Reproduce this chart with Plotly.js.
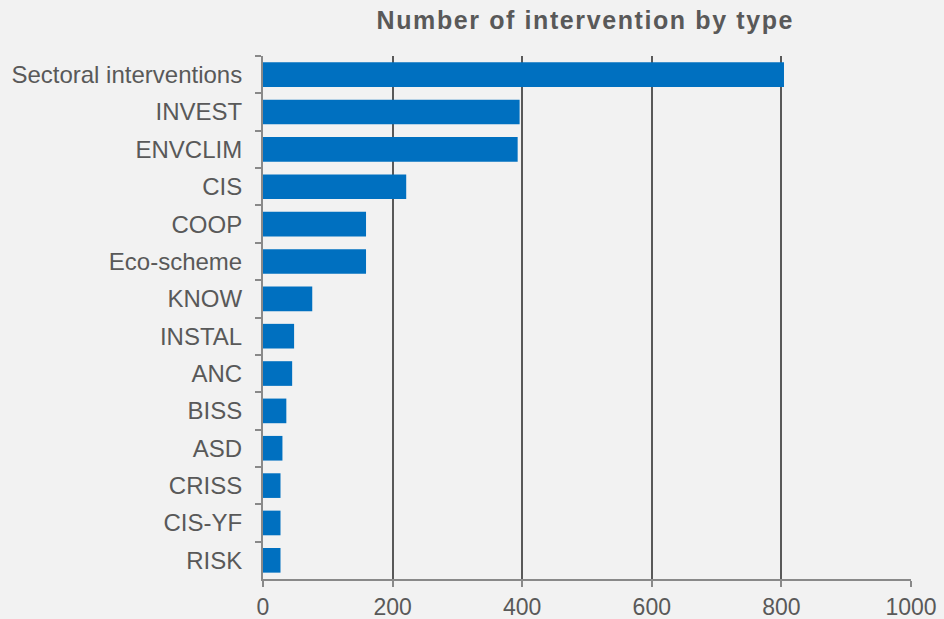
<!DOCTYPE html>
<html>
<head>
<meta charset="utf-8">
<script src="https://cdn.plot.ly/plotly-3.0.1.min.js"></script>
<style>
html,body{margin:0;padding:0;background:#f2f2f2;}
.gtitle{letter-spacing:1.6px;}
</style>
</head>
<body>
<div id="chart" style="width:944px;height:619px;"></div>
<script>
const categories = ["Sectoral interventions","INVEST","ENVCLIM","CIS","COOP","Eco-scheme","KNOW","INSTAL","ANC","BISS","ASD","CRISS","CIS-YF","RISK"];
const values = [804, 396, 393, 221, 159, 159, 76, 48, 45, 36, 30, 27, 27, 27];
const xTicks = [0, 200, 400, 600, 800, 1000];
const chartTitle = "Number of intervention by type";

const trace = {
  type: "bar",
  orientation: "h",
  x: values,
  y: categories,
  marker: {color: "#0070c0"},
  hoverinfo: "x+y"
};

const layout = {
  width: 944, height: 619,
  paper_bgcolor: "#f2f2f2",
  plot_bgcolor: "#f2f2f2",
  margin: {l: 263, r: 33, t: 56, b: 40},
  bargap: 0.34,
  showlegend: false,
  title: {
    text: "<b>" + chartTitle + "</b>",
    x: 0.62, xanchor: "center", y: 0.967, yanchor: "middle",
    font: {family: "Liberation Sans, Arial, sans-serif", size: 25, color: "#595959"}
  },
  xaxis: {
    range: [0, 1000],
    tickvals: xTicks,
    ticktext: xTicks.map(String),
    showgrid: true, gridcolor: "#595959", gridwidth: 2,
    zeroline: false,
    showline: true, linecolor: "#898989", linewidth: 2,
    ticks: "outside", ticklen: 6, tickwidth: 2, tickcolor: "#898989",
    ticklabelstandoff: 0,
    tickfont: {family: "Liberation Sans, Arial, sans-serif", size: 23, color: "#595959"},
    fixedrange: true
  },
  yaxis: {
    type: "category",
    categoryorder: "array",
    categoryarray: categories,
    autorange: "reversed",
    showgrid: false, zeroline: false,
    showline: true, linecolor: "#898989", linewidth: 2,
    ticks: "outside", ticklen: 6, tickwidth: 2, tickcolor: "#898989",
    tickson: "boundaries",
    ticklabelstandoff: 14,
    tickfont: {family: "Liberation Sans, Arial, sans-serif", size: 24, color: "#595959"},
    fixedrange: true
  }
};

Plotly.newPlot("chart", [trace], layout, {displayModeBar: false, staticPlot: true});
</script>
</body>
</html>
